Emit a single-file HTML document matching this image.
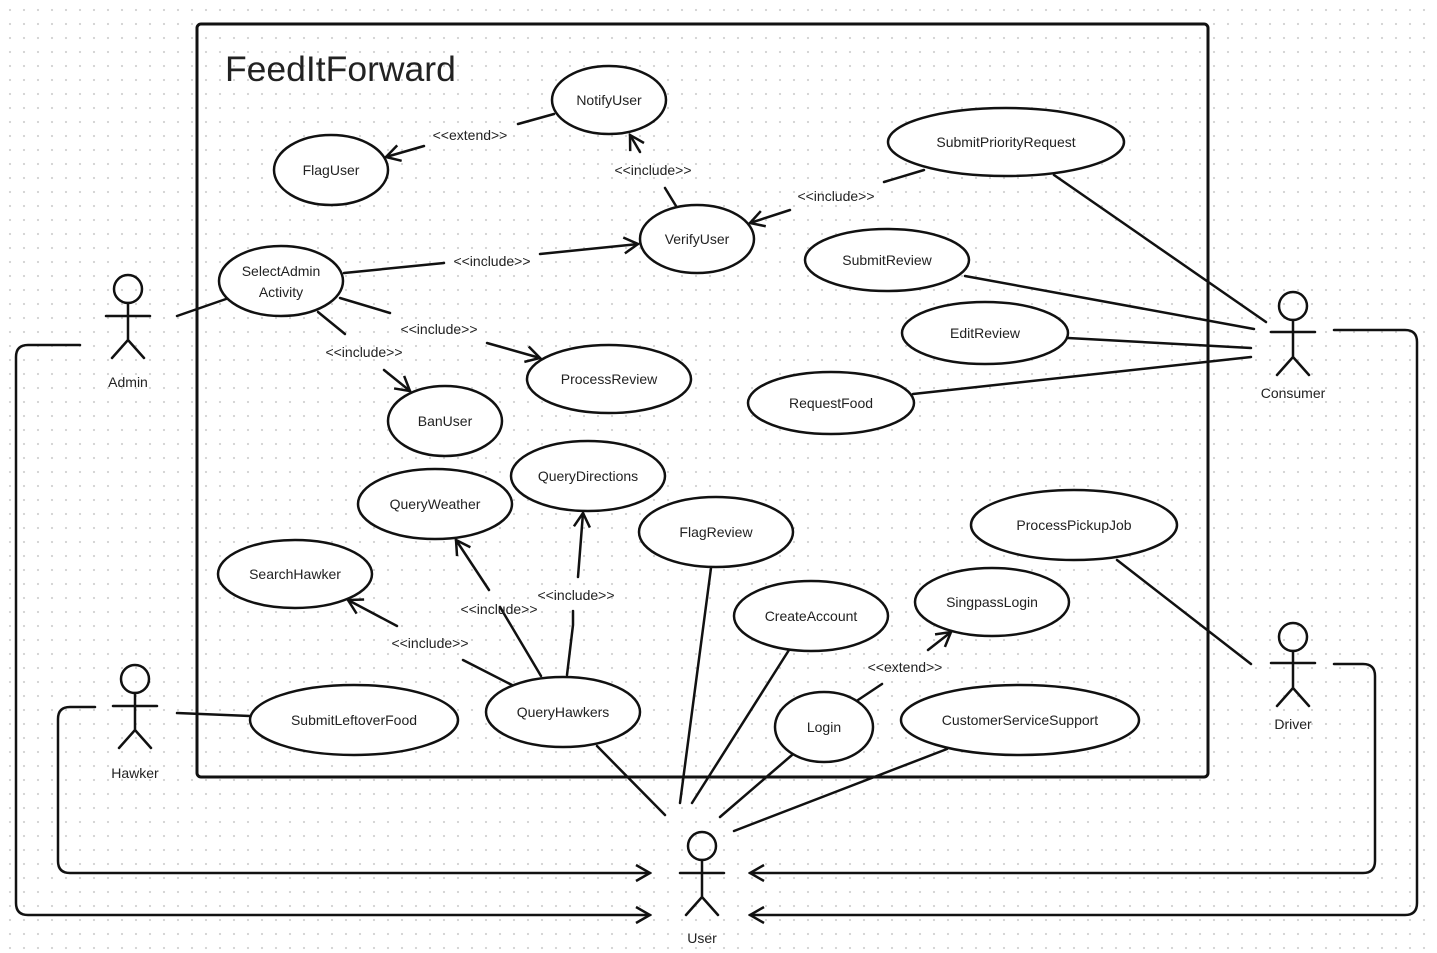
<!DOCTYPE html>
<html><head><meta charset="utf-8"><style>
html,body{margin:0;padding:0;background:#fff}
body{width:1437px;height:953px;overflow:hidden;background-color:#fff;background-image:radial-gradient(circle,#d4d4d4 1px,transparent 1.3px);background-size:14px 14px;background-position:3px 3px}
svg{position:absolute;left:0;top:0}
text{font-family:"Liberation Sans",sans-serif;fill:#222;font-size:14px}
</style></head><body>
<svg width="1437" height="953" viewBox="0 0 1437 953">
<defs><marker id="a" viewBox="0 0 20 20" refX="18" refY="10" markerWidth="20" markerHeight="20" markerUnits="userSpaceOnUse" orient="auto"><path d="M4 2 L18 10 L4 18" fill="none" stroke="#111" stroke-width="2.5"/></marker></defs>
<g fill="none" stroke="#111" stroke-width="2.5" stroke-linecap="round">
<rect x="197" y="24" width="1011" height="753" rx="4" stroke-width="3"/>
<g fill="#fff">
<ellipse cx="609" cy="100" rx="57" ry="34"/>
<ellipse cx="331" cy="170" rx="57" ry="35"/>
<ellipse cx="1006" cy="142" rx="118" ry="34"/>
<ellipse cx="697" cy="239" rx="57" ry="34"/>
<ellipse cx="281" cy="281" rx="62" ry="35"/>
<ellipse cx="887" cy="260" rx="82" ry="31"/>
<ellipse cx="985" cy="333" rx="83" ry="31"/>
<ellipse cx="609" cy="379" rx="82" ry="34"/>
<ellipse cx="831" cy="403" rx="83" ry="31"/>
<ellipse cx="445" cy="421" rx="57" ry="35"/>
<ellipse cx="588" cy="476" rx="77" ry="35"/>
<ellipse cx="435" cy="504" rx="77" ry="35"/>
<ellipse cx="716" cy="532" rx="77" ry="35"/>
<ellipse cx="1074" cy="525" rx="103" ry="35"/>
<ellipse cx="295" cy="574" rx="77" ry="34"/>
<ellipse cx="811" cy="616" rx="77" ry="35"/>
<ellipse cx="992" cy="602" rx="77" ry="34"/>
<ellipse cx="354" cy="720" rx="104" ry="35"/>
<ellipse cx="563" cy="712" rx="77" ry="35"/>
<ellipse cx="824" cy="727" rx="49" ry="35"/>
<ellipse cx="1020" cy="720" rx="119" ry="35"/>
</g>
<g>
<circle cx="128" cy="289" r="14"/><path d="M128 303V340M106 316H150M128 340L112 358M128 340L144 358"/>
<circle cx="1293" cy="306" r="14"/><path d="M1293 320V357M1271 332H1315M1293 357L1277 375M1293 357L1309 375"/>
<circle cx="1293" cy="637" r="14"/><path d="M1293 651V688M1271 663H1315M1293 688L1277 706M1293 688L1309 706"/>
<circle cx="135" cy="679" r="14"/><path d="M135 693V730M113 706H157M135 730L119 748M135 730L151 748"/>
<circle cx="702" cy="846" r="14"/><path d="M702 860V897M680 873H724M702 897L686 915M702 897L718 915"/>
</g>
<path d="M177 316L226 299"/>
<path d="M344 273L444 263"/><path d="M540 254L638 244" marker-end="url(#a)"/>
<path d="M340 298L390 313"/><path d="M487 343L540 358" marker-end="url(#a)"/>
<path d="M318 312L345 334"/><path d="M384 370L410 391" marker-end="url(#a)"/>
<path d="M676 206L665 188"/><path d="M640 152L630 135" marker-end="url(#a)"/>
<path d="M554 114L518 124"/><path d="M424 146L386 157" marker-end="url(#a)"/>
<path d="M924 170L884 182"/><path d="M790 210L750 223" marker-end="url(#a)"/>
<path d="M1054 175L1266 322"/>
<path d="M965 276L1254 329"/>
<path d="M1068 338L1251 348"/>
<path d="M913 394L1251 357"/>
<path d="M1334 330H1405Q1417 330 1417 342V903Q1417 915 1405 915H750" marker-end="url(#a)"/>
<path d="M1334 664H1363Q1375 664 1375 676V861Q1375 873 1363 873H750" marker-end="url(#a)"/>
<path d="M80 345H28Q16 345 16 357V903Q16 915 28 915H650" marker-end="url(#a)"/>
<path d="M95 707H70Q58 707 58 719V861Q58 873 70 873H650" marker-end="url(#a)"/>
<path d="M1117 560L1251 664"/>
<path d="M177 713L250 716"/>
<path d="M512 685L463 660"/><path d="M397 626L348 600" marker-end="url(#a)"/>
<path d="M541 676L500 607"/><path d="M489 590L456 540" marker-end="url(#a)"/>
<path d="M567 675L573 625V611"/><path d="M578 577L583 513" marker-end="url(#a)"/>
<path d="M597 746L665 815"/>
<path d="M711 568L680 803"/>
<path d="M789 650L692 803"/>
<path d="M792 755L720 817"/>
<path d="M947 749L734 831"/>
<path d="M858 700L882 684"/><path d="M928 650L951 632" marker-end="url(#a)"/>
</g>
<text x="225" y="81" style="font-size:35.5px">FeedItForward</text>
<g text-anchor="middle">
<text x="609" y="105">NotifyUser</text>
<text x="331" y="175">FlagUser</text>
<text x="1006" y="147">SubmitPriorityRequest</text>
<text x="697" y="244">VerifyUser</text>
<text x="281" y="276">SelectAdmin</text>
<text x="281" y="297">Activity</text>
<text x="887" y="265">SubmitReview</text>
<text x="985" y="338">EditReview</text>
<text x="609" y="384">ProcessReview</text>
<text x="831" y="408">RequestFood</text>
<text x="445" y="426">BanUser</text>
<text x="588" y="481">QueryDirections</text>
<text x="435" y="509">QueryWeather</text>
<text x="716" y="537">FlagReview</text>
<text x="1074" y="530">ProcessPickupJob</text>
<text x="295" y="579">SearchHawker</text>
<text x="811" y="621">CreateAccount</text>
<text x="992" y="607">SingpassLogin</text>
<text x="354" y="725">SubmitLeftoverFood</text>
<text x="563" y="717">QueryHawkers</text>
<text x="824" y="732">Login</text>
<text x="1020" y="725">CustomerServiceSupport</text>
<text x="128" y="387">Admin</text>
<text x="1293" y="398">Consumer</text>
<text x="1293" y="729">Driver</text>
<text x="135" y="778">Hawker</text>
<text x="702" y="943">User</text>
<text x="492" y="266">&lt;&lt;include&gt;&gt;</text>
<text x="439" y="334">&lt;&lt;include&gt;&gt;</text>
<text x="364" y="357">&lt;&lt;include&gt;&gt;</text>
<text x="653" y="175">&lt;&lt;include&gt;&gt;</text>
<text x="470" y="140">&lt;&lt;extend&gt;&gt;</text>
<text x="836" y="201">&lt;&lt;include&gt;&gt;</text>
<text x="430" y="648">&lt;&lt;include&gt;&gt;</text>
<text x="499" y="614">&lt;&lt;include&gt;&gt;</text>
<text x="576" y="600">&lt;&lt;include&gt;&gt;</text>
<text x="905" y="672">&lt;&lt;extend&gt;&gt;</text>
</g>
</svg>
</body></html>
